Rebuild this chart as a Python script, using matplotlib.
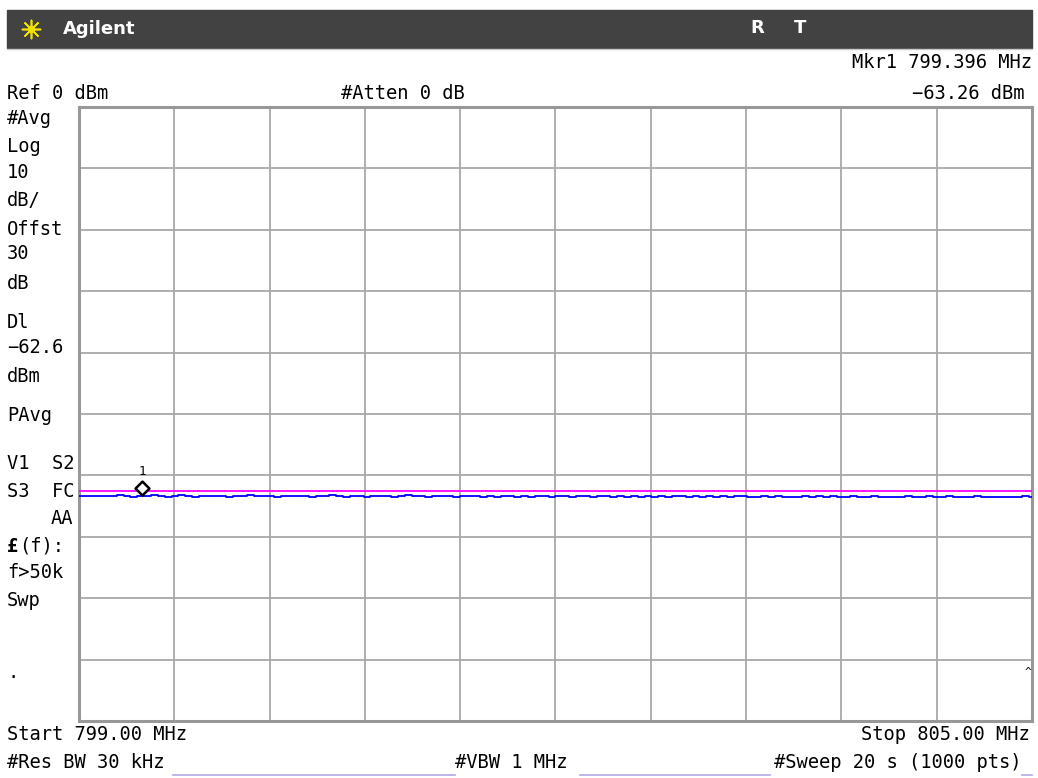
import numpy as np
import matplotlib.pyplot as plt
from matplotlib.path import Path
from matplotlib.patches import Rectangle

# Analyzer settings
start_mhz = 799.00
stop_mhz = 805.00
ref_dbm = 0.0
db_per_div = 10.0
display_line_dbm = -62.6
marker_mhz = 799.396
marker_dbm = -63.26

# Trace (dBm), read roughly across the span, left to right
trace_dbm = [
    -63.28, -63.36, -63.30, -63.42, -63.31, -63.38, -63.27, -63.35, -63.44, -63.30,
    -63.33, -63.25, -63.40, -63.47, -63.34, -63.26, -63.38, -63.45, -63.29, -63.41,
    -63.35, -63.28, -63.46, -63.33, -63.39, -63.27, -63.43, -63.36, -63.30, -63.48,
    -63.34, -63.40, -63.29, -63.37, -63.45, -63.31, -63.42, -63.26, -63.39, -63.47,
    -63.33, -63.28, -63.44, -63.36, -63.41, -63.30, -63.49, -63.35, -63.27, -63.43,
    -63.38, -63.46, -63.31, -63.40, -63.34, -63.50, -63.29, -63.42, -63.37, -63.45,
    -63.32, -63.47, -63.39, -63.28, -63.44, -63.36, -63.51, -63.33, -63.41, -63.46,
    -63.38, -63.30, -63.48, -63.35, -63.43, -63.52, -63.34, -63.40, -63.47, -63.37,
    -63.44, -63.31, -63.49, -63.39, -63.45, -63.36, -63.53, -63.41, -63.34, -63.48,
    -63.42, -63.50, -63.37, -63.46, -63.33, -63.51, -63.43, -63.39, -63.47, -63.54,
    -63.40, -63.45, -63.36, -63.52, -63.44, -63.49, -63.38, -63.55, -63.42, -63.47,
    -63.35, -63.50, -63.45, -63.41, -63.53, -63.46, -63.39, -63.51, -63.44, -63.48,
    -63.56, -63.42, -63.49, -63.45, -63.38, -63.52, -63.47, -63.43, -63.55, -63.46,
    -63.50, -63.41, -63.54, -63.48, -63.44, -63.57, -63.47, -63.51, -63.43, -63.49,
]

left_labels = ["#Avg", "Log", "10", "dB/", "Offst", "30", "dB", "Dl", "\u221262.6",
               "dBm", "PAvg", "V1  S2", "S3  FC"]
left_label_y = [118, 146, 172, 200, 229, 253, 283, 322, 347, 376, 415, 463, 491]

mono = "DejaVu Sans Mono"
fsize = 13.5

fig = plt.figure(figsize=(10.38, 7.78), dpi=100)

# overlay in screen pixels for the annotation panel
ov = fig.add_axes([0, 0, 1, 1], zorder=0)
ov.set_xlim(0, 1038)
ov.set_ylim(778, 0)
ov.axis("off")

ov.add_patch(Rectangle((7, 10), 1025, 38, color="#424242"))
ov.plot([7, 1032], [49, 49], color="#c8c8c8", lw=1)
ov.scatter([31], [29], marker=(8, 2, 0), s=170, color="#f0e000", lw=1.2)
ov.scatter([31], [29], marker="o", s=18, color="#f0e000")
ov.text(63, 29, "Agilent", color="white", fontsize=13, fontweight="bold",
        va="center", ha="left", family="DejaVu Sans")
ov.text(757, 28, "R", color="white", fontsize=13, fontweight="bold",
        va="center", ha="center", family="DejaVu Sans")
ov.text(800, 28, "T", color="white", fontsize=13, fontweight="bold",
        va="center", ha="center", family="DejaVu Sans")

ov.text(1032, 62, "Mkr1 %.3f MHz" % marker_mhz, family=mono, fontsize=fsize,
        ha="right", va="center")
ov.text(1024, 93, ("%.2f dBm" % marker_dbm).replace("-", "\u2212"), family=mono,
        fontsize=fsize, ha="right", va="center")
ov.text(7, 93, "Ref %d dBm" % ref_dbm, family=mono, fontsize=fsize, ha="left", va="center")
ov.text(341, 93, "#Atten 0 dB", family=mono, fontsize=fsize, ha="left", va="center")

for lab, yy in zip(left_labels, left_label_y):
    ov.text(7, yy, lab, family=mono, fontsize=fsize, ha="left", va="center")
ov.text(73, 519, "AA", family=mono, fontsize=fsize, ha="right", va="center")
ov.text(7, 546, "£", family=mono, fontsize=fsize, fontweight="bold", ha="left", va="center")
ov.text(19, 546, "(f):", family=mono, fontsize=fsize, ha="left", va="center")
ov.text(7, 572, "f>50k", family=mono, fontsize=fsize, ha="left", va="center")
ov.text(7, 600, "Swp", family=mono, fontsize=fsize, ha="left", va="center")
ov.text(8, 672, ".", family=mono, fontsize=fsize, ha="left", va="center")

ov.text(7, 735, "Start %.2f MHz" % start_mhz, family=mono, fontsize=fsize,
        ha="left", va="center")
ov.text(1030, 735, "Stop %.2f MHz" % stop_mhz, family=mono, fontsize=fsize,
        ha="right", va="center")
ov.text(7, 762, "#Res BW 30 kHz", family=mono, fontsize=fsize, ha="left", va="center")
ov.text(455, 762, "#VBW 1 MHz", family=mono, fontsize=fsize, ha="left", va="center")
ov.text(1022, 762, "#Sweep 20 s (1000 pts)", family=mono, fontsize=fsize,
        ha="right", va="center")
for x0, x1 in [(173, 455), (580, 770), (1022, 1032)]:
    ov.plot([x0, x1], [775, 775], color="#b4a8e8", lw=1.2)

# graticule
ax = fig.add_axes([79 / 1038, 1 - 721 / 778, 953 / 1038, 614 / 778], zorder=1)
ax.set_xlim(start_mhz, stop_mhz)
ax.set_ylim(ref_dbm - 10 * db_per_div, ref_dbm)
ax.set_xticks(np.linspace(start_mhz, stop_mhz, 11))
ax.set_yticks(np.linspace(ref_dbm - 10 * db_per_div, ref_dbm, 11))
ax.grid(True, color="#a8a8a8", lw=1.3)
ax.tick_params(length=0, labelbottom=False, labelleft=False)
for s in ax.spines.values():
    s.set_color("#989898")
    s.set_linewidth(2.2)

freq = np.linspace(start_mhz, stop_mhz, len(trace_dbm))
ax.axhline(display_line_dbm, color="#ff00ff", lw=1.3, zorder=3)
ax.plot(freq, trace_dbm, color="#0000ff", lw=1.3, drawstyle="steps-mid", zorder=4)

# marker diamond sits above the point
diamond = Path([(0, 0), (-0.5, 0.5), (0, 1), (0.5, 0.5), (0, 0)],
               [Path.MOVETO, Path.LINETO, Path.LINETO, Path.LINETO, Path.CLOSEPOLY])
ax.plot([marker_mhz], [marker_dbm], marker=diamond, ms=20, mfc="white",
        mec="black", mew=1.8, zorder=5, clip_on=False)
ax.annotate("1", (marker_mhz, marker_dbm), xytext=(0, 17), textcoords="offset points",
            ha="center", va="center", family=mono, fontsize=9)
ax.annotate("^", (stop_mhz, -92), xytext=(-3, 0), textcoords="offset points",
            ha="center", va="center", family=mono, fontsize=8, annotation_clip=False)

fig.savefig("out.png", dpi=100)
